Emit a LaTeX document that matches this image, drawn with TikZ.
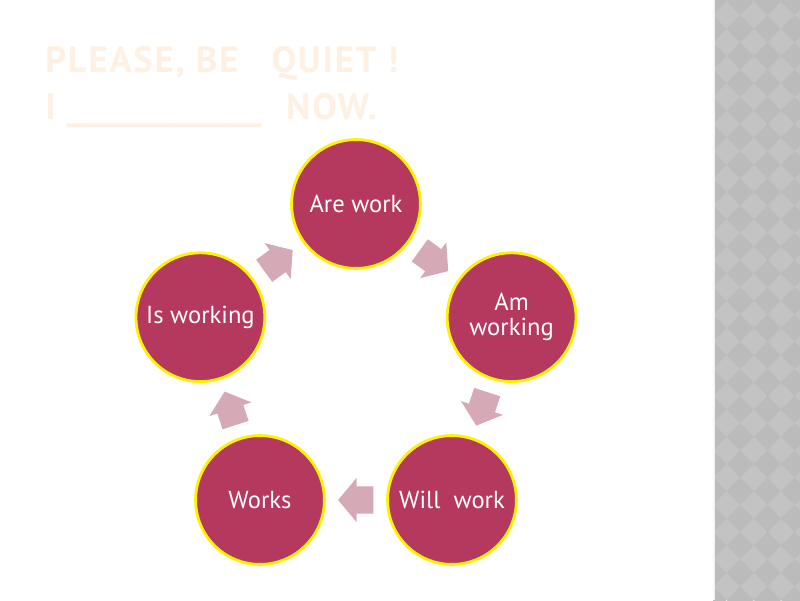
\documentclass[tikz,border=0pt]{standalone}
\usepackage{fontspec}
\setmainfont{PT Sans}
\newfontfamily\titlefont[LetterSpace=5]{PT Sans}
\usetikzlibrary{shapes.arrows,calc}
\definecolor{bubfill}{HTML}{B5385F}
\definecolor{bubring}{HTML}{FFF200}
\definecolor{arrfill}{HTML}{D5A9B6}
\definecolor{titlecol}{HTML}{FEF1E4}
\definecolor{stripgray}{HTML}{C3C3C3}
\definecolor{stripdark}{HTML}{BBBBBB}
\tikzset{
    bub/.style={circle, fill=bubfill, draw=bubring, line width=2pt, minimum size=3.22cm,
        inner sep=0pt, text=white, font=\fontsize{17.5}{21}\selectfont, align=center},
    arr/.style={single arrow, fill=arrfill, draw=none, inner xsep=0pt, inner ysep=0.335cm,
        minimum height=0.88cm, minimum width=1.1cm, single arrow head extend=0.21cm,
        single arrow tip angle=100, sloped, allow upside down, pos=0.41},
    title/.style={text=titlecol, font=\titlefont\fontsize{26}{30}\selectfont\bfseries, anchor=base west, inner sep=0pt}
}
\begin{document}
\begin{tikzpicture}
\useasboundingbox (0,0) rectangle (20,15);
\fill[white] (0,0) rectangle (20,15);

\begin{scope}
\clip (17.825,0) rectangle (20,15);
\fill[stripgray] (17.825,0) rectangle (20,15);
\foreach \i in {0,...,4}
  \foreach \j in {0,...,23}
    \fill[stripdark] (17.825+\i*0.68-0.34,\j*0.68) -- ++(0.34,0.34) -- ++(0.34,-0.34) -- ++(-0.34,-0.34) -- cycle;
\end{scope}
\fill[white!85!stripgray] (17.825,0) rectangle (17.875,15);

\node[title] at (1.125,13.175) (t1) {PLEASE, BE\ \ \ QUIET\ !};
\node[title] at (1.125,12.0) (t2) {I {\rmfamily\_\_\_\_\_\_\_\_\_\_\_\_\kern2pt}\ \ NOW.};

\node[bub] at (8.9,9.9) (c1) {Are work};
\node[bub] at (12.79,7.07) (c2) {Am\\[-3pt]working};
\node[bub] at (11.3,2.5) (c3) {Will\ \ work};
\node[bub] at (6.5,2.5) (c4) {Works};
\node[bub] at (5.01,7.07) (c5) {Is working};

\path (c1) -- node[arr] (a1) {} (c2);
\path (c2) -- node[arr] (a2) {} (c3);
\path (c3) -- node[arr] (a3) {} (c4);
\path (c4) -- node[arr] (a4) {} (c5);
\path (c5) -- node[arr] (a5) {} (c1);
\end{tikzpicture}
\end{document}
